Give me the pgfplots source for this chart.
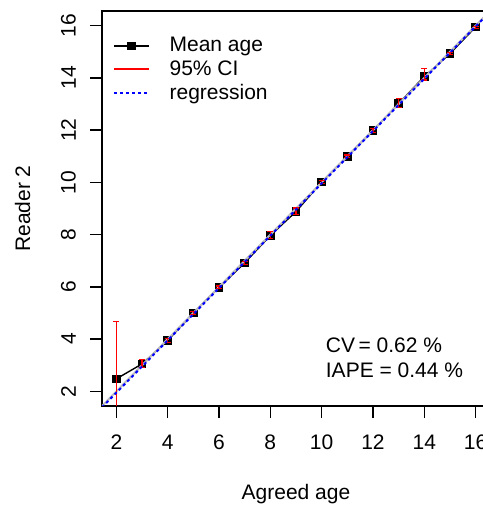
\documentclass[border=0pt]{standalone}
\usepackage{fontspec}
\setmainfont{Liberation Sans}
\usepackage{pgfplots}
\pgfplotsset{compat=1.18}
\begin{document}
\begin{tikzpicture}[font=\fontsize{10.5}{12.6}\selectfont]
\useasboundingbox (0,0) rectangle (241.5pt,252.5pt);
\clip (0,0) rectangle (241.5pt,252.5pt);
\begin{axis}[
  at={(51pt,49.5pt)}, anchor=south west,
  scale only axis, width=194pt, height=197.5pt,
  xmin=1.44, xmax=16.56, ymin=1.44, ymax=16.56,
  xtick={2,4,...,16}, ytick={2,4,...,16},
  axis line style={line width=0.8pt},
  tick style={line width=0.8pt, black},
  tick align=outside, major tick length=6pt,
  xtick pos=bottom, ytick pos=left,
  /pgf/number format/assume math mode=true,
  ticklabel style={font=\fontsize{10.5}{12.6}\selectfont},
  yticklabel style={rotate=90, anchor=south},
  xticklabel shift=5pt, yticklabel shift=3.5pt,
  xlabel={Agreed age}, ylabel={Reader 2},
  xlabel shift=10.5pt, ylabel shift=8.5pt,
  label style={font=\fontsize{10.5}{12.6}\selectfont},
  legend style={at={(0.013,0.955)}, anchor=north west, draw=none, fill=none,
    font=\fontsize{10.5}{12.6}\selectfont, row sep=-1pt},
  legend cell align=left,
  clip marker paths=true,
]
\addplot[black, line width=0.7pt, mark=square*, mark size=1.8pt] coordinates {
 (2,2.48) (3,3.05) (4,3.95) (5,5.0) (6,5.98) (7,6.92) (8,7.97) (9,8.88)
 (10,10.02) (11,11.0) (12,11.98) (13,13.02) (14,14.05) (15,14.93) (16,15.95)
};
\addlegendentry{\hspace{8pt}Mean age}
\addplot[gray!50, line width=1pt, forget plot] coordinates {(1.44,1.44) (16.56,16.56)};
\addplot[red, line width=0.6pt, draw=none, forget plot,
  error bars/.cd, y dir=both, y explicit,
  error bar style={red, line width=0.6pt},
  error mark options={red, line width=0.6pt, mark size=1.5pt, rotate=90}] coordinates {
 (2,2.48) += (0,2.19) -= (0,2.0)
 (3,3.05) += (0,0.17) -= (0,0.15)
 (4,3.95) += (0,0.07) -= (0,0.07)
 (5,5.0) += (0,0.05) -= (0,0.05)
 (6,5.98) += (0,0.05) -= (0,0.05)
 (7,6.92) += (0,0.06) -= (0,0.07)
 (8,7.97) += (0,0.15) -= (0,0.12)
 (9,8.88) += (0,0.14) -= (0,0.10)
 (10,10.02) += (0,0.06) -= (0,0.05)
 (11,11.0) += (0,0.05) -= (0,0.05)
 (12,11.98) += (0,0.07) -= (0,0.06)
 (13,13.02) += (0,0.18) -= (0,0.14)
 (14,14.05) += (0,0.30) -= (0,0.13)
 (15,14.93) += (0,0.04) -= (0,0.03)
 (16,15.95) += (0,0.03) -= (0,0.05)
};
\addlegendimage{legend image code/.code={\draw[red, line width=1pt] (0cm,0cm) -- (0.6cm,0cm);}}
\addlegendentry{\hspace{8pt}95\% CI}
\addplot[blue, line width=1pt, dash pattern=on 1.5pt off 1.5pt] coordinates {(1.44,1.39) (16.56,16.53)};
\addlegendentry{\hspace{8pt}regression}
\node[anchor=west, inner sep=0pt] at (axis cs:10.15,3.77) {CV\,= 0.62 \%};
\node[anchor=west, inner sep=0pt] at (axis cs:10.15,2.82) {IAPE = 0.44 \%};
\end{axis}
\end{tikzpicture}
\end{document}
